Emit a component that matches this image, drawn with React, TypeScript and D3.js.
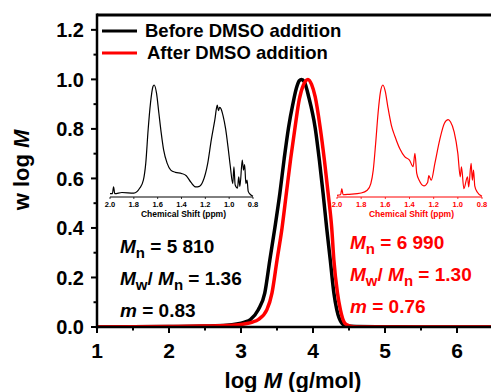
import React from 'react'
import * as d3 from 'd3'

// GPC curves (log M vs w log M)
const logMBefore = [1.0, 2.0, 2.5, 2.8, 2.94, 3.05, 3.13, 3.24, 3.33, 3.4, 3.47, 3.54, 3.6, 3.66, 3.72, 3.77, 3.81, 3.84, 3.88, 3.94, 4.03, 4.09, 4.14, 4.19, 4.24, 4.29, 4.33, 4.4, 4.47, 4.6, 5.0, 5.5, 6.5]
const wBefore = [0, 0.002, 0.004, 0.007, 0.012, 0.02, 0.03, 0.07, 0.137, 0.27, 0.4, 0.54, 0.68, 0.805, 0.9, 0.965, 0.995, 1.0, 0.99, 0.93, 0.805, 0.67, 0.54, 0.4, 0.27, 0.137, 0.07, 0.016, 0.004, 0.002, 0.001, 0, 0]

const logMAfter = [1.0, 2.0, 2.5, 2.8, 3.0, 3.08, 3.16, 3.24, 3.36, 3.43, 3.5, 3.57, 3.63, 3.69, 3.75, 3.81, 3.87, 3.93, 3.98, 4.03, 4.1, 4.16, 4.21, 4.26, 4.29, 4.34, 4.38, 4.44, 4.5, 4.56, 4.7, 6.5]
const wAfter = [0, 0.002, 0.004, 0.006, 0.01, 0.014, 0.02, 0.03, 0.07, 0.137, 0.27, 0.4, 0.54, 0.68, 0.805, 0.92, 0.98, 1.0, 0.98, 0.93, 0.805, 0.67, 0.54, 0.4, 0.27, 0.137, 0.07, 0.016, 0.005, 0.001, 0, 0]

// 1H NMR insets (chemical shift in ppm, relative intensity)
const ppmBefore = [2.0, 1.98, 1.97, 1.96, 1.9, 1.8, 1.75, 1.72, 1.7, 1.68, 1.66, 1.64, 1.63, 1.61, 1.59, 1.57, 1.55, 1.52, 1.49, 1.45, 1.4, 1.36, 1.32, 1.28, 1.25, 1.22, 1.18, 1.15, 1.12, 1.1, 1.09, 1.08, 1.07, 1.05, 1.03, 1.01, 0.99, 0.97, 0.96, 0.95, 0.93, 0.92, 0.91, 0.89, 0.88, 0.87, 0.86, 0.85, 0.84, 0.82, 0.8]
const intBefore = [0.03, 0.03, 0.09, 0.03, 0.04, 0.035, 0.08, 0.15, 0.3, 0.6, 0.84, 0.985, 1.0, 0.93, 0.75, 0.57, 0.42, 0.3, 0.24, 0.22, 0.21, 0.19, 0.13, 0.09, 0.095, 0.14, 0.3, 0.51, 0.69, 0.82, 0.77, 0.8, 0.79, 0.72, 0.61, 0.45, 0.27, 0.12, 0.27, 0.11, 0.08, 0.18, 0.095, 0.33, 0.24, 0.29, 0.12, 0.15, 0.05, 0.02, 0.006]

const ppmAfter = [2.0, 1.97, 1.96, 1.95, 1.9, 1.8, 1.75, 1.72, 1.7, 1.68, 1.66, 1.64, 1.62, 1.6, 1.58, 1.55, 1.52, 1.48, 1.44, 1.4, 1.37, 1.355, 1.34, 1.32, 1.28, 1.25, 1.24, 1.22, 1.19, 1.15, 1.11, 1.08, 1.06, 1.03, 1.0, 0.98, 0.97, 0.95, 0.92, 0.91, 0.89, 0.88, 0.87, 0.86, 0.84, 0.8]
const intAfter = [0.015, 0.02, 0.075, 0.02, 0.024, 0.036, 0.06, 0.12, 0.24, 0.48, 0.75, 0.94, 1.0, 0.94, 0.81, 0.64, 0.54, 0.43, 0.36, 0.33, 0.27, 0.39, 0.21, 0.15, 0.1, 0.13, 0.19, 0.15, 0.3, 0.51, 0.66, 0.69, 0.67, 0.58, 0.39, 0.18, 0.27, 0.075, 0.18, 0.09, 0.3, 0.15, 0.24, 0.1, 0.045, 0.006]

const xTicks = [1, 2, 3, 4, 5, 6]
const yTicks = [0, 0.2, 0.4, 0.6, 0.8, 1.0, 1.2]
const ppmTicks = [2.0, 1.8, 1.6, 1.4, 1.2, 1.0, 0.8]

const seriesNames = ['Before DMSO addition', 'After DMSO addition']
const seriesColors = ['#000000', '#ff0000']
const statsBefore = { mn: '5 810', pdi: '1.36', m: '0.83' }
const statsAfter = { mn: '6 990', pdi: '1.30', m: '0.76' }

const font = '"Liberation Sans", Arial, sans-serif'

const width = 491
const height = 392
const margin = { top: 15, left: 97, bottom: 65, right: -2 }

type InsetProps = { ppm: number[]; values: number[]; color: string; x0: number; x1: number }

const Inset: React.FunctionComponent<InsetProps> = ({ ppm, values, color, x0, x1 }) => {
  const xs = d3.scaleLinear().domain([2.0, 0.8]).range([x0, x1])
  const ys = d3.scaleLinear().domain([0, 1]).range([197, 85])
  const line = d3
    .line<number>()
    .x((_, i) => xs(ppm[i]))
    .y(d => ys(d))
    .curve(d3.curveMonotoneX)
  return (
    <g>
      <path d={line(values) || ''} fill="none" stroke={color} strokeWidth={1.2} />
      <line x1={x0} x2={x1} y1={ys(0)} y2={ys(0)} stroke={color} strokeWidth={1} />
      {ppmTicks.map(t => (
        <g key={t}>
          <line x1={xs(t)} x2={xs(t)} y1={ys(0)} y2={ys(0) + 2} stroke={color} strokeWidth={0.8} />
          <text x={xs(t)} y={ys(0) + 10} textAnchor="middle" fontSize={7.5} fontWeight="bold" fill={color} fontFamily={font}>
            {t.toFixed(1)}
          </text>
        </g>
      ))}
      <text x={(x0 + x1) / 2 + 2} y={ys(0) + 20} textAnchor="middle" fontSize={8.5} fontWeight="bold" fill={color} fontFamily={font}>
        Chemical Shift (ppm)
      </text>
    </g>
  )
}

type StatsProps = { x: number; y: number; color: string; stats: { mn: string; pdi: string; m: string } }

const Stats: React.FunctionComponent<StatsProps> = ({ x, y, color, stats }) => (
  <g fill={color} fontFamily={font} fontWeight="bold" fontSize={19}>
    <text x={x} y={y}>
      <tspan fontStyle="italic">M</tspan>
      <tspan fontSize={15} dy={5}>n</tspan>
      <tspan dy={-5}> = {stats.mn}</tspan>
    </text>
    <text x={x} y={y + 32}>
      <tspan fontStyle="italic">M</tspan>
      <tspan fontSize={15} dy={5}>w</tspan>
      <tspan dy={-5}>/ </tspan>
      <tspan fontStyle="italic">M</tspan>
      <tspan fontSize={15} dy={5}>n</tspan>
      <tspan dy={-5}> = {stats.pdi}</tspan>
    </text>
    <text x={x} y={y + 64}>
      <tspan fontStyle="italic">m</tspan>
      <tspan> = {stats.m}</tspan>
    </text>
  </g>
)

const App: React.FunctionComponent = () => {
  const xScale = d3.scaleLinear().domain([1, 6.5]).range([margin.left, width - margin.right])
  const yScale = d3.scaleLinear().domain([0, 1.26]).range([height - margin.bottom, margin.top])

  const makeLine = (xsData: number[]) =>
    d3
      .line<number>()
      .x((_, i) => xScale(xsData[i]))
      .y(d => yScale(d))
      .curve(d3.curveMonotoneX)

  const xMinor = d3.range(1, 6.51, 0.5).filter(v => !xTicks.includes(v))
  const yMinor = d3.range(0.1, 1.25, 0.2)

  const y0 = yScale(0)
  const plotW = xScale(6.5) - xScale(1)

  return (
    <svg width={width} height={height} style={{ position: 'absolute', left: 0, top: 0, background: '#fff' }}>
      <rect x={0} y={0} width={width} height={height} fill="#fff" />
      <defs>
        <clipPath id="plot">
          <rect x={margin.left} y={margin.top} width={plotW} height={y0 - margin.top} />
        </clipPath>
      </defs>

      <Inset ppm={ppmBefore} values={intBefore} color={seriesColors[0]} x0={110} x1={253} />
      <Inset ppm={ppmAfter} values={intAfter} color={seriesColors[1]} x0={337} x1={482} />

      <g clipPath="url(#plot)">
        <path d={makeLine(logMBefore)(wBefore) || ''} fill="none" stroke={seriesColors[0]} strokeWidth={3.5} strokeLinejoin="round" />
        <path d={makeLine(logMAfter)(wAfter) || ''} fill="none" stroke={seriesColors[1]} strokeWidth={3.5} strokeLinejoin="round" />
      </g>

      {/* frame */}
      <line x1={margin.left} x2={width + 5} y1={margin.top} y2={margin.top} stroke="#000" strokeWidth={3} />
      <line x1={margin.left} x2={margin.left} y1={margin.top - 1.5} y2={y0 + 1.5} stroke="#000" strokeWidth={2.5} />
      <line x1={margin.left - 1} x2={width + 5} y1={y0} y2={y0} stroke="#000" strokeWidth={2.5} />

      {/* y axis */}
      {yTicks.map(t => (
        <g key={t}>
          <line x1={margin.left - 6} x2={margin.left} y1={yScale(t)} y2={yScale(t)} stroke="#000" strokeWidth={2} />
          <text x={margin.left - 13} y={yScale(t)} dy="0.36em" textAnchor="end" fontSize={20} fontWeight="bold" fontFamily={font}>
            {t.toFixed(1)}
          </text>
        </g>
      ))}
      {yMinor.map(t => (
        <line key={t} x1={margin.left - 3.5} x2={margin.left} y1={yScale(t)} y2={yScale(t)} stroke="#000" strokeWidth={2} />
      ))}

      {/* x axis */}
      {xTicks.map(t => (
        <g key={t}>
          <line x1={xScale(t)} x2={xScale(t)} y1={y0} y2={y0 + 6} stroke="#000" strokeWidth={2} />
          <text x={xScale(t)} y={y0 + 31} textAnchor="middle" fontSize={21} fontWeight="bold" fontFamily={font}>
            {t}
          </text>
        </g>
      ))}
      {xMinor.map(t => (
        <line key={t} x1={xScale(t)} x2={xScale(t)} y1={y0} y2={y0 + 3.5} stroke="#000" strokeWidth={2} />
      ))}

      {/* axis titles */}
      <text x={293} y={388} textAnchor="middle" fontSize={22} fontWeight="bold" fontFamily={font}>
        log <tspan fontStyle="italic">M</tspan> (g/mol)
      </text>
      <text transform="translate(29, 170) rotate(-90)" textAnchor="middle" fontSize={22} fontWeight="bold" fontFamily={font}>
        w log <tspan fontStyle="italic">M</tspan>
      </text>

      {/* legend */}
      {seriesNames.map((name, i) => (
        <g key={name}>
          <line x1={102} x2={137} y1={31 + i * 22} y2={31 + i * 22} stroke={seriesColors[i]} strokeWidth={3} />
          <text x={145 + i * 2} y={37 + i * 22} fontSize={18.5} fontWeight="bold" fontFamily={font}>
            {name}
          </text>
        </g>
      ))}

      <Stats x={120} y={253} color={seriesColors[0]} stats={statsBefore} />
      <Stats x={350} y={249} color={seriesColors[1]} stats={statsAfter} />
    </svg>
  )
}

export default App
